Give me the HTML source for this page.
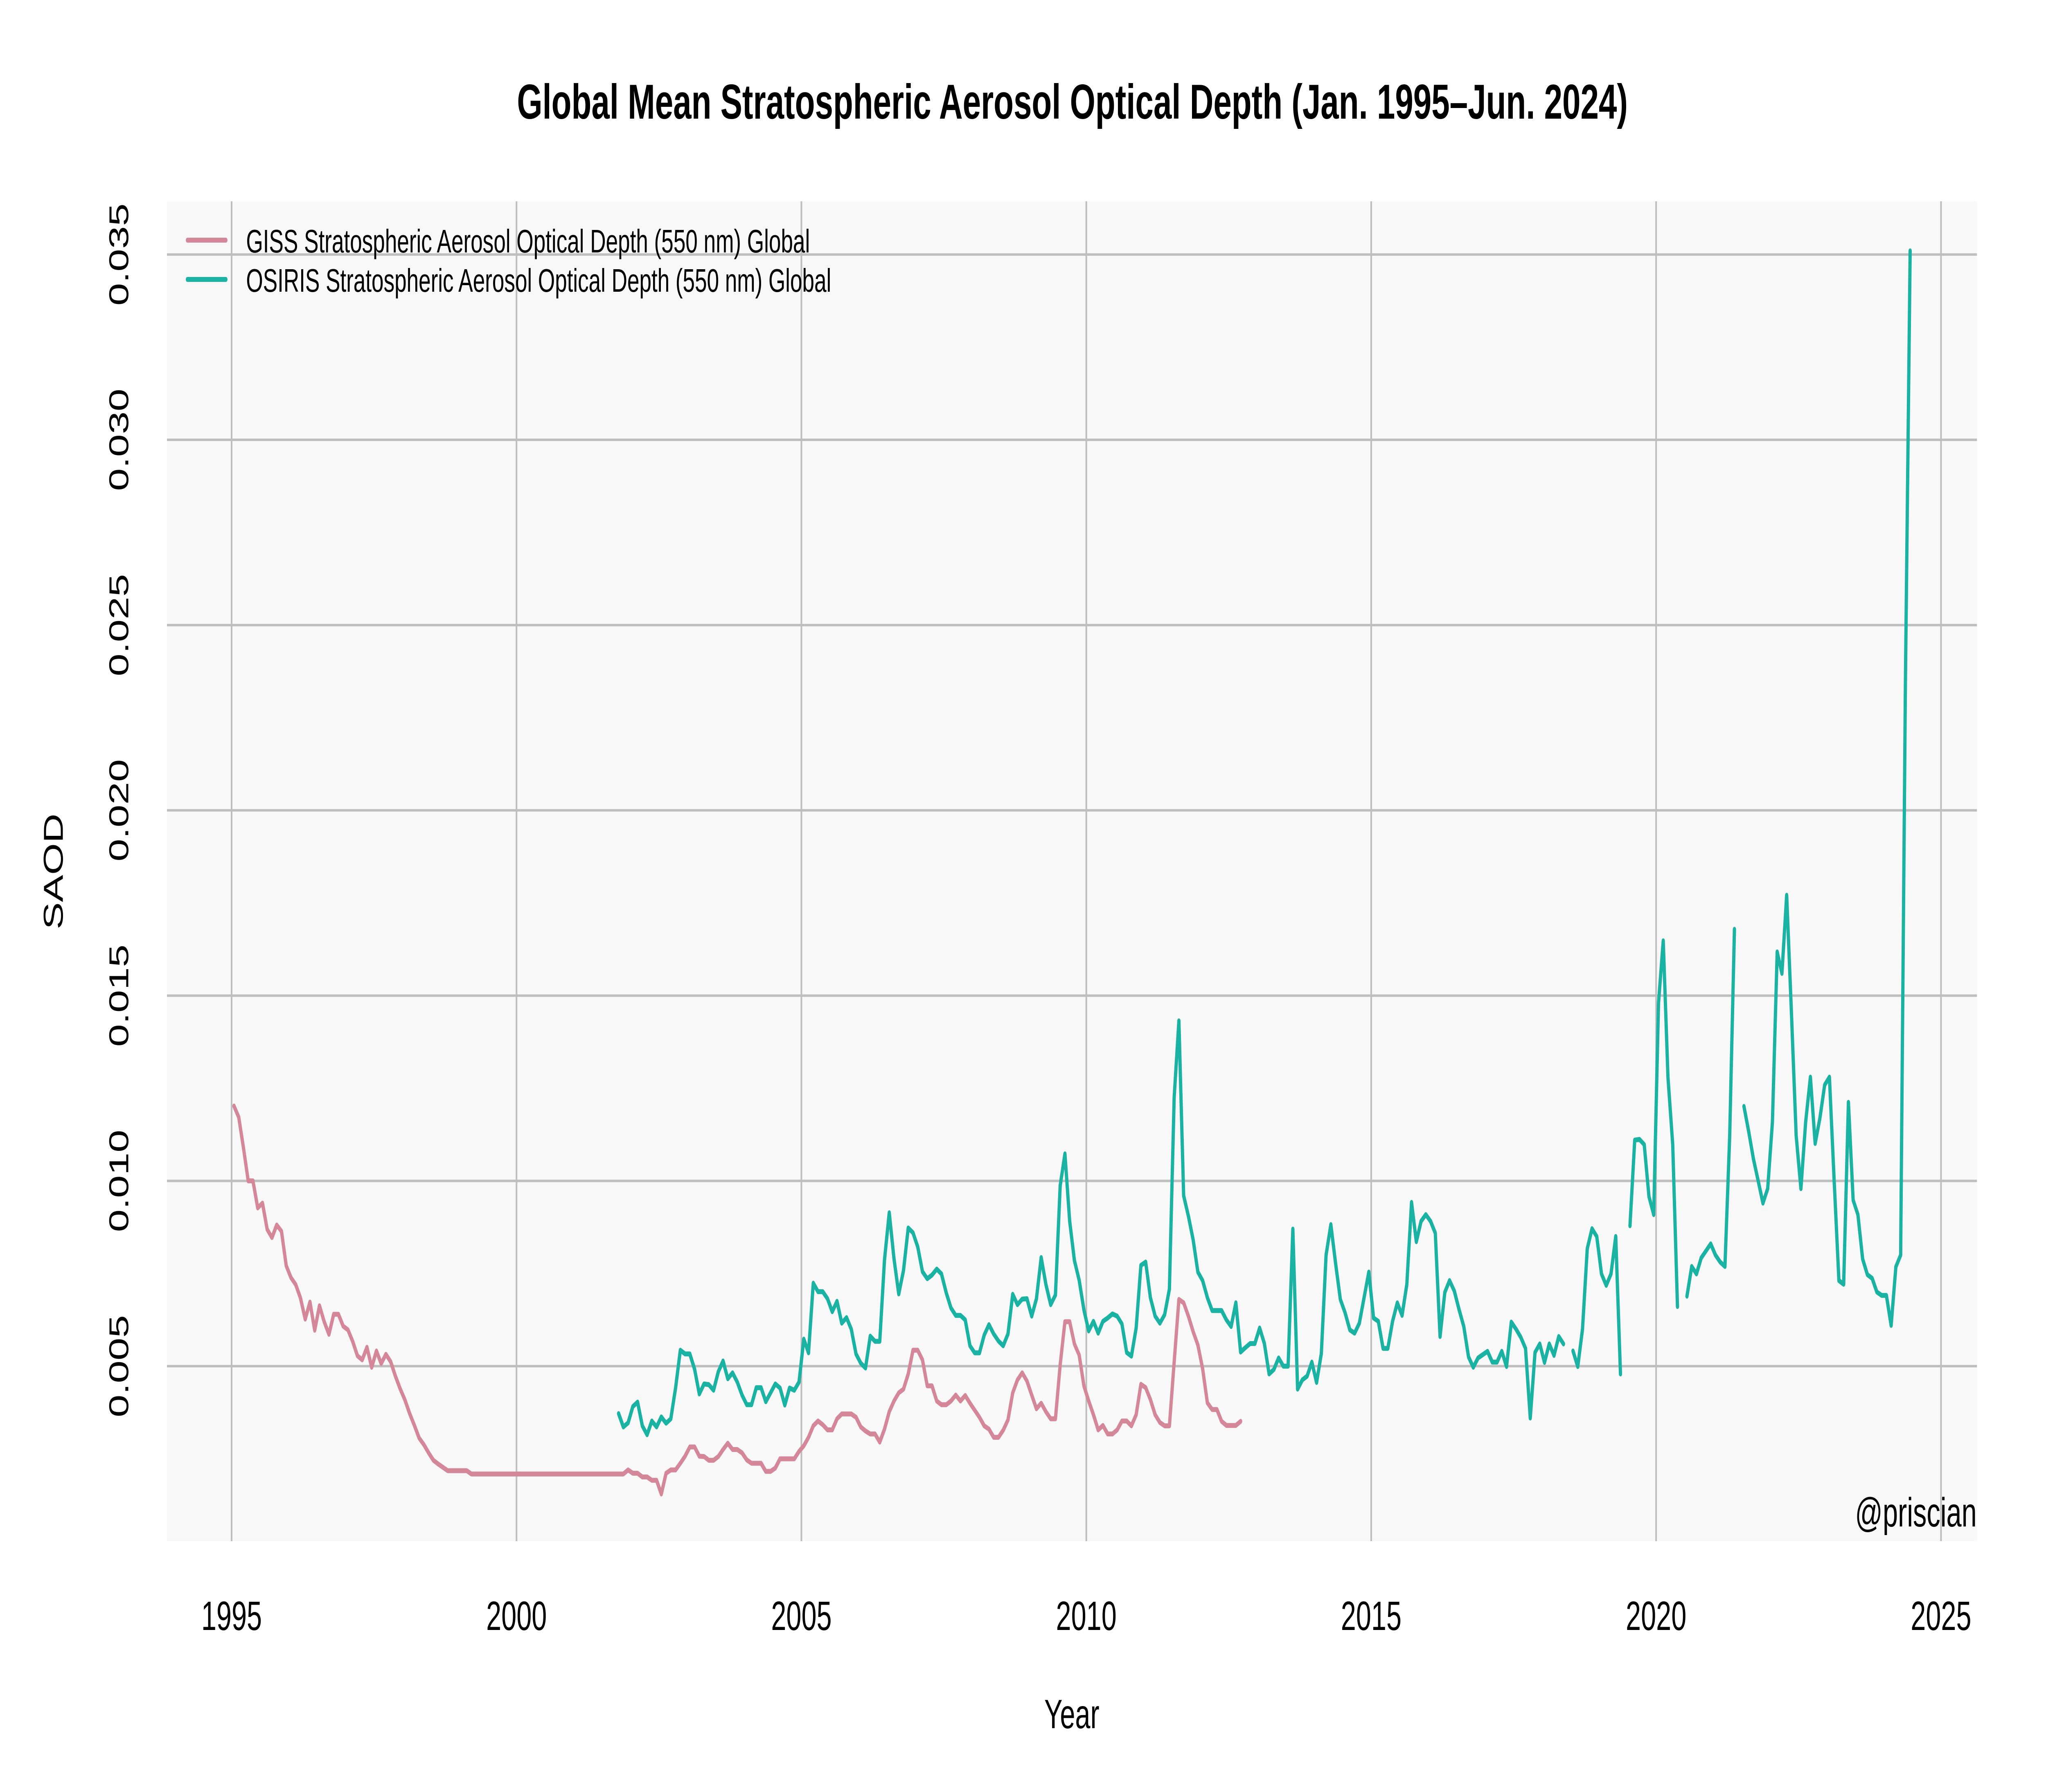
<!DOCTYPE html>
<html lang="en">
<head>
<meta charset="utf-8">
<title>Global Mean Stratospheric Aerosol Optical Depth</title>
<style>
html,body{margin:0;padding:0;background:#fff;width:100%;height:100%;overflow:hidden}
svg{display:block;width:100vw;height:100vh}
text{font-family:"Liberation Sans",Arial,sans-serif;fill:#000}
</style>
</head>
<body>
<svg id="chart" xmlns="http://www.w3.org/2000/svg" viewBox="0 0 7500 4380" preserveAspectRatio="none">
  <rect x="0" y="0" width="7500" height="4380" fill="#ffffff"/>
  <rect x="612" y="492" width="6635" height="3275" fill="#f8f8f8"/>
  <g id="grid-h"></g>
  <g id="grid-v"></g>
  <g id="series"></g>
  <g id="ticks-x"></g>
  <g id="ticks-y"></g>
  <text x="3931" y="290" text-anchor="middle" font-size="120" font-weight="700" textLength="4072" lengthAdjust="spacing">Global Mean Stratospheric Aerosol Optical Depth (Jan. 1995–Jun. 2024)</text>
  <text x="3929" y="4224" text-anchor="middle" font-size="100">Year</text>
  <text x="230" y="2130" text-anchor="middle" font-size="100" transform="rotate(-90 230 2130)">SAOD</text>
  <g>
    <line x1="687" x2="828" y1="587" y2="587" stroke="#d5879a" stroke-width="12" stroke-linecap="round"/>
    <text x="902" y="617" font-size="80" textLength="2067" lengthAdjust="spacing">GISS Stratospheric Aerosol Optical Depth (550 nm) Global</text>
    <line x1="687" x2="828" y1="683" y2="683" stroke="#1ab2a3" stroke-width="12" stroke-linecap="round"/>
    <text x="902" y="713" font-size="80" textLength="2145" lengthAdjust="spacing">OSIRIS Stratospheric Aerosol Optical Depth (550 nm) Global</text>
  </g>
  <text x="7246" y="3731" text-anchor="end" font-size="100">@priscian</text>
</svg>
<script>
// Monthly series: index 0 = Jan 1995
const startYear = 1995;
const xTickLabels = ["1995", "2000", "2005", "2010", "2015", "2020", "2025"];
const yTickLabels = ["0.005", "0.010", "0.015", "0.020", "0.025", "0.030", "0.035"];
const gissStartIndex = 0;
const gissValues = [
  .01202,.01172,.01089,.0100,.0100,.00927,.0094,.00869,.00847,.00881,.00864,.00771,
  .00739,.0072,.00684,.00627,.00673,.00597,.00663,.0062,.00586,.0064,.0064,.00608,
  .00598,.00567,.00528,.00517,.00551,.00497,.00541,.00507,.00532,.00512,.00473,.00439,
  .00409,.00372,.0034,.00306,.00288,.00266,.00246,.00236,.00227,.00218,.00218,.00218,
  .00218,.00218,.00209,.00209,.00209,.00209,.00209,.00209,.00209,.00209,.00209,.00209,
  .00209,.00209,.00209,.00209,.00209,.00209,.00209,.00209,.00209,.00209,.00209,.00209,
  .00209,.00209,.00209,.00209,.00209,.00209,.00209,.00209,.00209,.00209,.00209,.0022,
  .00211,.00211,.00201,.00201,.00192,.00192,.00155,.00211,.0022,.0022,.00238,.00257,
  .00282,.00282,.00257,.00256,.00246,.00246,.00256,.00275,.00292,.00275,.00275,.00266,
  .00247,.00238,.00238,.00238,.00216,.00216,.00225,.0025,.0025,.0025,.0025,.0027,
  .00285,.00308,.00339,.00352,.00342,.00328,.00328,.00358,.00371,.00371,.00371,.00362,
  .00336,.00325,.00317,.00317,.00295,.0033,.00377,.00406,.00428,.00438,.00479,.00543,
  .00543,.00517,.00447,.00447,.00406,.00396,.00396,.00406,.00422,.00406,.00421,.004,
  .00381,.00362,.00339,.0033,.00308,.00308,.00327,.00355,.00428,.00463,.00482,.0046,
  .00422,.00385,.004,.00377,.00358,.00358,.00504,.0062,.0062,.0056,.0053,.00447,
  .00406,.00369,.00328,.0034,.00317,.00317,.00328,.00352,.00352,.00339,.00369,.00451,
  .00442,.0041,.00369,.00348,.00339,.00339,.00511,.0068,.00671,.00635,.00593,.00557,
  .00493,.00401,.00383,.00383,.00351,.0034,.0034,.0034,.00351
];
const osirisStartIndex = 81; // Oct 2001; null marks a missing month
const osirisValues = [
  .00372,.00336,.00347,
  .00391,.00403,.00339,.00315,.00352,.00336,.00363,.00346,.00358,.00441,.00543,.00533,
  .00533,.00492,.00425,.00452,.0045,.00435,.00485,.00514,.00466,.00482,.00457,.00422,
  .00396,.00396,.00442,.00442,.00404,.00428,.00452,.00441,.00395,.00441,.00435,.00457,
  .00573,.00536,.00724,.00701,.00701,.00682,.00647,.00675,.00616,.00631,.006,.00533,
  .00508,.00495,.00581,.00567,.00567,.00787,.00914,.0079,.00695,.00758,.00873,.0086,
  .00822,.00755,.00736,.00746,.00762,.00749,.00698,.00657,.00637,.00637,.00625,.00555,
  .00536,.00536,.00584,.00612,.00587,.00568,.00555,.00587,.00694,.00666,.00681,.00682,
  .00635,.00682,.00793,.0072,.00666,.00692,.00987,.01073,.00891,.00785,.00732,.00652,
  .00595,.00621,.00589,.00621,.0063,.00641,.00635,.00614,.00537,.00527,.00603,.00772,
  .00781,.00685,.00635,.00616,.00639,.00708,.01225,.01432,.0096,.00905,.00841,.00754,
  .00731,.00685,.0065,.0065,.0065,.00625,.00607,.00671,.00538,.0055,.00561,.00561,
  .00603,.00561,.00479,.00491,.00522,.005,.005,.0087,.00438,.00463,.00473,.00511,
  .00456,.00534,.008,.00882,.00777,.0068,.00644,.00598,.00589,.00616,.00685,.00754,
  .0063,.00621,.00548,.00548,.00621,.00671,.00637,.0072,.00942,.00836,.00891,.00909,
  .00891,.00859,.0058,.00699,.00731,.00703,.00653,.00607,.00525,.00497,.00522,.00531,
  .0054,.00511,.00511,.0054,.00499,.00619,.006,.00578,.00548,.0036,.00537,.0056,
  .0051,.0056,.00529,.0058,.0056,null,.00541,.00499,.006,.00817,.00871,.0085,
  .00749,.00718,.00749,.0085,.00479,null,.00879,.0111,.01112,.01098,.00958,.00909,
  .01479,.01648,.01279,.01098,.00661,null,.00689,.00769,.00749,.00792,.00811,.0083,
  .008,.00781,.00769,.01121,.01679,null,.01201,.01133,.01059,.01,.0094,.00979,
  .01159,.01618,.0156,.01771,.01455,.01122,.00979,.01159,.0128,.01101,.0117,.01259,
  .0128,.01,.00731,.00721,.01212,.00948,.00909,.00789,.00747,.00737,.007,.00691,
  .00691,.0061,.00768,.008,.0234,.0351
];

const SVG_NS = "http://www.w3.org/2000/svg";
const panel = { left: 612, right: 7247, top: 492, bottom: 3767 };
function xScale(year) { return 849 + (year - 1995) * 208.87; }
function yScale(value) { return 3792 - value * 90567; }
function monthToYear(index) { return startYear + (index + 0.5) / 12; }
function make(tag, attrs) {
  const el = document.createElementNS(SVG_NS, tag);
  for (const k in attrs) el.setAttribute(k, attrs[k]);
  return el;
}

const gridH = document.getElementById("grid-h");
const gridV = document.getElementById("grid-v");
const ticksX = document.getElementById("ticks-x");
const ticksY = document.getElementById("ticks-y");
const seriesGroup = document.getElementById("series");

yTickLabels.forEach(function (label) {
  const py = yScale(parseFloat(label));
  const line = make("line", { x1: panel.left, x2: panel.right, y1: py, y2: py, stroke: "#bebebe", "stroke-width": 6 });
  
  
  gridH.appendChild(line);
  const text = make("text", { x: 470, y: py, "text-anchor": "middle", "font-size": 100, transform: "rotate(-90 470 " + py + ")" });
  text.textContent = label;
  
  
  ticksY.appendChild(text);
});

xTickLabels.forEach(function (label) {
  const px = xScale(parseFloat(label));
  const line = make("line", { x1: px, x2: px, y1: panel.top, y2: panel.bottom, stroke: "#bebebe", "stroke-width": 6 });
  
  
  gridV.appendChild(line);
  const text = make("text", { x: px, y: 3984, "text-anchor": "middle", "font-size": 100 });
  text.textContent = label;
  
  
  ticksX.appendChild(text);
});

function buildPath(values, startIndex) {
  let d = "";
  let pen = false;
  values.forEach(function (v, i) {
    if (v === null) { pen = false; return; }
    const px = xScale(monthToYear(startIndex + i)).toFixed(1);
    const py = yScale(v).toFixed(1);
    d += (pen ? "L" : "M") + px + " " + py;
    pen = true;
  });
  return d;
}

const gissLine = make("path", { d: buildPath(gissValues, gissStartIndex), fill: "none", stroke: "#d5879a", "stroke-width": 12, "stroke-linejoin": "round", "stroke-linecap": "round" });


seriesGroup.appendChild(gissLine);

const osirisLine = make("path", { d: buildPath(osirisValues, osirisStartIndex), fill: "none", stroke: "#1ab2a3", "stroke-width": 12, "stroke-linejoin": "round", "stroke-linecap": "round" });


seriesGroup.appendChild(osirisLine);
</script>
</body>
</html>
